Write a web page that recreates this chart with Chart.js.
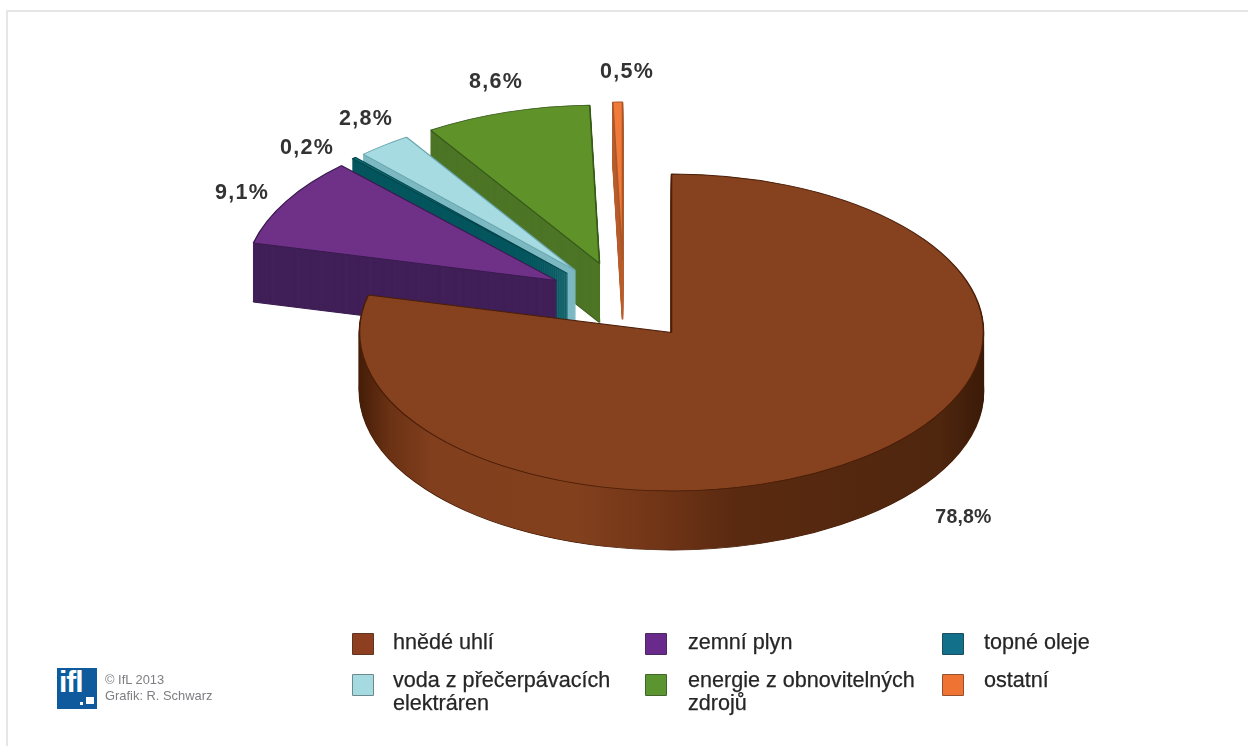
<!DOCTYPE html>
<html lang="cs">
<head>
<meta charset="utf-8">
<title>Výroba elektřiny</title>
<script src="https://cdn.jsdelivr.net/npm/chart.js@4"></script>
<style>
html,body{margin:0;padding:0;background:#fff;width:1248px;height:746px;overflow:hidden}
#stage{position:relative;width:1248px;height:746px;filter:blur(.65px);font-family:"Liberation Sans",Arial,sans-serif;color:#262626}
#frameTop{position:absolute;left:6px;top:10px;right:0;height:2px;background:#e6e6e6}
#frameLeft{position:absolute;left:6px;top:10px;bottom:0;width:2px;background:#e6e6e6}
canvas{position:absolute;left:0;top:0}
.sw{position:absolute;width:20px;height:20px;border:1px solid rgba(40,40,40,.45);border-radius:1px}
.lg{position:absolute;font-size:21.6px;line-height:23px;width:240px;-webkit-text-stroke:.25px #262626}
#logo{position:absolute;left:57px;top:668px;width:40px;height:41px;background:#0f5a9c;color:#fff;overflow:hidden}
#logo b{position:absolute;left:2px;top:-2px;font-size:30px;line-height:32px;letter-spacing:-1px}
#logo i{position:absolute;left:29px;top:29px;width:8px;height:7px;background:#fff}
#logo u{position:absolute;left:23px;top:34px;width:3px;height:3px;background:#fff}
.cr{position:absolute;left:105px;font-size:12.9px;line-height:14px;color:#7c7e82;white-space:nowrap}
</style>
</head>
<body>
<div id="stage">
<div id="frameTop"></div><div id="frameLeft"></div>
<canvas id="c" width="1248" height="746"></canvas>
<div id="legend"></div>
<div id="logo"><b>ifl</b><i></i><u></u></div>
<div class="cr" style="top:673px">© IfL 2013</div>
<div class="cr" style="top:689px">Grafik: R. Schwarz</div>
</div>
<script>
// data
const categories = ["hnědé uhlí","zemní plyn","topné oleje","voda z přečerpávacích elektráren","energie z obnovitelných zdrojů","ostatní"];
const shares = [78.8,9.1,0.2,2.8,8.6,0.5];
// styles
const topColors  = ["#86421f","#6f3188","#0a6a72","#a7dbe2","#5f9229","#ef7a3a"];
const edgeColors = ["#4a1e08","#3b1a50","#03454c","#6aa6ae","#36591a","#a8562a"];
const wallColors = ["#6d3215","#412059","#05565e","#7db9c2","#4d7526","#b85f2e"];
const legendColors = ["#8e3f1f","#6a2a8c","#12708a","#a5dbe0","#5a9530","#ef7434"];
// layout
const slideX = [0,-115,-104,-96,-72,-49];
const slideY = [0,-52,-59,-62,-69,-72];
const labelX = [963.5,242,307,366,496,627];
const labelY = [518,193.5,148.5,119.5,82.5,72.5];
const labelSize = [19.5,21.5,21.5,21.5,21.5,21.5];
const labelGap = [0.2,1.3,1.3,1.3,1.3,1.3];
const legendX = [352,645,942,352,645,942];
const legendY = [633,633,633,674,674,674];
const legendTextX = [393,688,984,393,688,984];
const legendTextY = [630,630,630,668,668,668];
const SQUASH = 0.508, DEPTH = 59;

const pie3d = {
  id:'pie3d',
  beforeDatasetDraw(chart,args){
    const ctx = chart.ctx, arcs = args.meta.data;
    const grad = ctx.createLinearGradient(359,0,984,0);
    grad.addColorStop(0,'#451d07');
    grad.addColorStop(0.05,'#6b3214');
    grad.addColorStop(0.12,'#823f1d');
    grad.addColorStop(0.35,'#82401d');
    grad.addColorStop(0.5,'#6e3316');
    grad.addColorStop(0.6,'#5a2a10');
    grad.addColorStop(0.93,'#4f260e');
    grad.addColorStop(1,'#3a1a07');
    for(let i=arcs.length-1;i>=0;i--){
      const arc = arcs[i], o = arc.options;
      for(let d=DEPTH;d>=0;d--){
        ctx.save();
        ctx.translate(slideX[i],slideY[i]+d);
        ctx.translate(arc.x,arc.y);
        ctx.scale(1,SQUASH);
        ctx.translate(-arc.x,-arc.y);
        const wall = i===0 ? grad : wallColors[i];
        o.backgroundColor = d===0 ? topColors[i] : wall;
        o.borderColor = (d===0||d===DEPTH) ? edgeColors[i] : wall;
        o.borderWidth = (d===0||d===DEPTH) ? 1.6 : 1.2;
        arc.draw(ctx);
        ctx.restore();
      }
    }
    return false;
  },
  afterDatasetsDraw(chart){
    const ctx = chart.ctx;
    ctx.save();
    ctx.fillStyle = '#333';
    ctx.textAlign = 'center';
    ctx.textBaseline = 'middle';
    shares.forEach((v,i)=>{
      ctx.font = `bold ${labelSize[i]}px "Liberation Sans",Arial,sans-serif`;
      ctx.letterSpacing = labelGap[i]+'px';
      ctx.fillText(v.toFixed(1).replace('.',',')+'%',labelX[i],labelY[i]);
    });
    ctx.restore();
  }
};

new Chart(document.getElementById('c'),{
  type:'pie',
  data:{labels:categories,datasets:[{data:shares,backgroundColor:topColors,borderWidth:0}]},
  options:{
    responsive:false,animation:false,devicePixelRatio:1,radius:312,
    layout:{padding:{left:95,right:0,top:0,bottom:81}},
    plugins:{legend:{display:false},tooltip:{enabled:false}},
    events:[]
  },
  plugins:[pie3d]
});

const lg = document.getElementById('legend');
categories.forEach((name,i)=>{
  const s = document.createElement('div');
  s.className='sw';
  s.style.cssText=`left:${legendX[i]}px;top:${legendY[i]}px;background:${legendColors[i]}`;
  lg.appendChild(s);
  const t = document.createElement('div');
  t.className='lg';
  t.style.cssText=`left:${legendTextX[i]}px;top:${legendTextY[i]}px`;
  t.textContent=name;
  lg.appendChild(t);
});
</script>
</body>
</html>
